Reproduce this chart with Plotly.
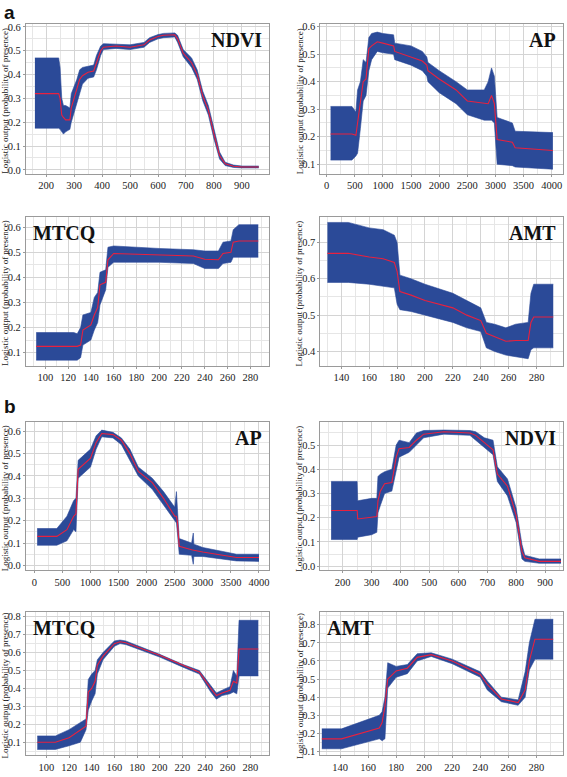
import plotly.graph_objects as go

# ---------------- data ----------------
# (a) NDVI
a_ndvi_x  = [160, 245, 250, 256, 262, 270, 285, 290, 300, 310, 320, 330, 350, 370, 380, 395, 405, 450, 500, 550, 570, 600, 620, 660, 670, 690, 720, 740, 760, 780, 800, 820, 840, 870, 900, 960]
a_ndvi_m  = [0.32, 0.32, 0.30, 0.23, 0.22, 0.21, 0.21, 0.26, 0.30, 0.34, 0.38, 0.395, 0.41, 0.415, 0.45, 0.50, 0.515, 0.52, 0.515, 0.525, 0.545, 0.56, 0.565, 0.567, 0.55, 0.49, 0.45, 0.40, 0.31, 0.25, 0.15, 0.06, 0.025, 0.015, 0.012, 0.012]
a_ndvi_lo = [0.175, 0.175, 0.17, 0.16, 0.15, 0.16, 0.17, 0.20, 0.24, 0.29, 0.33, 0.36, 0.385, 0.39, 0.42, 0.48, 0.505, 0.51, 0.505, 0.515, 0.535, 0.55, 0.555, 0.558, 0.535, 0.475, 0.43, 0.38, 0.29, 0.23, 0.13, 0.045, 0.018, 0.01, 0.008, 0.008]
a_ndvi_hi = [0.47, 0.47, 0.43, 0.30, 0.27, 0.27, 0.26, 0.32, 0.35, 0.38, 0.42, 0.43, 0.435, 0.44, 0.48, 0.52, 0.53, 0.528, 0.525, 0.535, 0.555, 0.568, 0.573, 0.575, 0.565, 0.505, 0.47, 0.42, 0.33, 0.27, 0.17, 0.075, 0.032, 0.02, 0.016, 0.016]

# (a) AP
a_ap_x  = [70, 450, 520, 550, 600, 650, 700, 750, 800, 900, 1000, 1190, 1210, 1500, 1700, 1780, 1800, 2000, 2300, 2500, 2800, 2870, 2930, 2980, 3030, 3300, 3350, 4020]
a_ap_m  = [0.21, 0.21, 0.205, 0.25, 0.32, 0.40, 0.41, 0.52, 0.53, 0.545, 0.54, 0.53, 0.51, 0.49, 0.475, 0.46, 0.44, 0.41, 0.37, 0.33, 0.32, 0.32, 0.35, 0.32, 0.19, 0.18, 0.16, 0.15]
a_ap_lo = [0.115, 0.115, 0.13, 0.14, 0.23, 0.33, 0.35, 0.44, 0.48, 0.51, 0.505, 0.50, 0.48, 0.46, 0.44, 0.42, 0.40, 0.36, 0.32, 0.28, 0.26, 0.26, 0.26, 0.25, 0.10, 0.095, 0.09, 0.082]
a_ap_hi = [0.31, 0.31, 0.29, 0.37, 0.40, 0.48, 0.47, 0.56, 0.575, 0.58, 0.575, 0.57, 0.54, 0.53, 0.51, 0.49, 0.47, 0.44, 0.40, 0.37, 0.37, 0.40, 0.45, 0.42, 0.27, 0.25, 0.22, 0.215]

# (a) MTCQ
a_mt_x  = [92, 125, 128, 131, 133, 140, 143, 146, 148, 153, 155, 160, 200, 230, 240, 252, 256, 263, 265, 270, 287]
a_mt_m  = [0.125, 0.125, 0.125, 0.13, 0.19, 0.21, 0.25, 0.28, 0.37, 0.38, 0.47, 0.495, 0.49, 0.485, 0.472, 0.47, 0.495, 0.50, 0.54, 0.545, 0.545]
a_mt_lo = [0.07, 0.07, 0.07, 0.08, 0.13, 0.15, 0.19, 0.22, 0.29, 0.35, 0.44, 0.46, 0.46, 0.455, 0.435, 0.435, 0.455, 0.46, 0.48, 0.48, 0.48]
a_mt_hi = [0.18, 0.18, 0.175, 0.20, 0.25, 0.26, 0.32, 0.34, 0.42, 0.43, 0.52, 0.525, 0.515, 0.51, 0.505, 0.505, 0.54, 0.545, 0.59, 0.61, 0.61]

# (a) AMT
a_amt_x  = [130, 145, 160, 170, 178, 180, 182, 190, 200, 220, 230, 240, 244, 250, 258, 265, 274, 276, 278, 292]
a_amt_m  = [0.67, 0.67, 0.66, 0.655, 0.645, 0.62, 0.565, 0.555, 0.54, 0.52, 0.50, 0.485, 0.45, 0.44, 0.428, 0.43, 0.43, 0.48, 0.495, 0.495]
a_amt_lo = [0.59, 0.59, 0.585, 0.58, 0.575, 0.53, 0.515, 0.51, 0.50, 0.48, 0.465, 0.455, 0.41, 0.40, 0.39, 0.385, 0.38, 0.405, 0.41, 0.41]
a_amt_hi = [0.755, 0.755, 0.74, 0.735, 0.72, 0.70, 0.61, 0.60, 0.585, 0.56, 0.54, 0.52, 0.48, 0.475, 0.465, 0.475, 0.48, 0.56, 0.585, 0.585]

# (b) AP
b_ap_x  = [50, 400, 580, 700, 740, 780, 1000, 1100, 1200, 1400, 1550, 1700, 1850, 2100, 2300, 2500, 2530, 2545, 2560, 2580, 2800, 2830, 2840, 3000, 3600, 4000]
b_ap_m  = [0.13, 0.13, 0.16, 0.22, 0.23, 0.43, 0.48, 0.55, 0.59, 0.585, 0.56, 0.50, 0.42, 0.37, 0.30, 0.22, 0.22, 0.20, 0.15, 0.085, 0.07, 0.07, 0.068, 0.06, 0.035, 0.035]
b_ap_lo = [0.09, 0.09, 0.11, 0.16, 0.15, 0.39, 0.44, 0.52, 0.575, 0.57, 0.54, 0.47, 0.40, 0.34, 0.27, 0.20, 0.19, 0.15, 0.10, 0.05, 0.045, 0.005, 0.04, 0.04, 0.02, 0.018]
b_ap_hi = [0.165, 0.165, 0.22, 0.29, 0.30, 0.47, 0.52, 0.58, 0.605, 0.595, 0.57, 0.52, 0.44, 0.39, 0.33, 0.26, 0.33, 0.22, 0.20, 0.12, 0.10, 0.145, 0.095, 0.08, 0.05, 0.05]

# (b) NDVI
b_ndvi_x  = [160, 250, 252, 300, 318, 322, 330, 345, 370, 385, 395, 430, 455, 480, 550, 640, 660, 690, 720, 735, 770, 800, 820, 830, 880, 955]
b_ndvi_m  = [0.23, 0.23, 0.195, 0.20, 0.205, 0.27, 0.31, 0.34, 0.345, 0.45, 0.485, 0.49, 0.52, 0.545, 0.555, 0.55, 0.54, 0.51, 0.48, 0.38, 0.33, 0.21, 0.06, 0.035, 0.02, 0.02]
b_ndvi_lo = [0.11, 0.11, 0.12, 0.13, 0.14, 0.22, 0.25, 0.30, 0.31, 0.40, 0.45, 0.47, 0.50, 0.53, 0.545, 0.54, 0.52, 0.49, 0.46, 0.35, 0.29, 0.18, 0.03, 0.02, 0.012, 0.012]
b_ndvi_hi = [0.35, 0.35, 0.27, 0.28, 0.28, 0.37, 0.38, 0.39, 0.40, 0.50, 0.52, 0.51, 0.55, 0.56, 0.562, 0.56, 0.555, 0.53, 0.52, 0.41, 0.36, 0.24, 0.09, 0.045, 0.03, 0.03]

# (b) MTCQ
b_mt_x  = [92, 108, 120, 130, 135, 137, 140, 143, 145, 150, 160, 165, 170, 200, 220, 235, 245, 250, 255, 262, 265, 268, 270, 287]
b_mt_m  = [0.10, 0.10, 0.125, 0.17, 0.19, 0.38, 0.40, 0.44, 0.53, 0.58, 0.65, 0.66, 0.655, 0.585, 0.53, 0.49, 0.40, 0.36, 0.375, 0.39, 0.44, 0.43, 0.62, 0.62]
b_mt_lo = [0.06, 0.06, 0.08, 0.10, 0.17, 0.28, 0.33, 0.37, 0.48, 0.56, 0.635, 0.65, 0.645, 0.575, 0.52, 0.48, 0.38, 0.34, 0.36, 0.37, 0.38, 0.37, 0.47, 0.47]
b_mt_hi = [0.135, 0.135, 0.17, 0.21, 0.23, 0.45, 0.48, 0.50, 0.56, 0.60, 0.665, 0.67, 0.665, 0.59, 0.535, 0.50, 0.42, 0.375, 0.39, 0.41, 0.50, 0.47, 0.78, 0.78]

# (b) AMT
b_amt_x  = [127, 141, 168, 170, 172, 174, 180, 188, 195, 205, 220, 240, 245, 255, 267, 272, 275, 279, 292]
b_amt_m  = [0.17, 0.17, 0.23, 0.26, 0.35, 0.50, 0.545, 0.56, 0.62, 0.635, 0.60, 0.525, 0.47, 0.39, 0.37, 0.44, 0.60, 0.72, 0.72]
b_amt_lo = [0.115, 0.115, 0.17, 0.16, 0.17, 0.45, 0.51, 0.53, 0.60, 0.625, 0.585, 0.51, 0.44, 0.375, 0.355, 0.40, 0.55, 0.61, 0.61]
b_amt_hi = [0.225, 0.225, 0.30, 0.32, 0.40, 0.59, 0.57, 0.58, 0.64, 0.645, 0.61, 0.54, 0.49, 0.40, 0.385, 0.54, 0.70, 0.83, 0.83]

panel_titles = ["NDVI", "AP", "MTCQ", "AMT", "AP", "NDVI", "MTCQ", "AMT"]
y_title = "Logistic output (probability of presence)"

panels = [
    (a_ndvi_x, a_ndvi_m, a_ndvi_lo, a_ndvi_hi),
    (a_ap_x, a_ap_m, a_ap_lo, a_ap_hi),
    (a_mt_x, a_mt_m, a_mt_lo, a_mt_hi),
    (a_amt_x, a_amt_m, a_amt_lo, a_amt_hi),
    (b_ap_x, b_ap_m, b_ap_lo, b_ap_hi),
    (b_ndvi_x, b_ndvi_m, b_ndvi_lo, b_ndvi_hi),
    (b_mt_x, b_mt_m, b_mt_lo, b_mt_hi),
    (b_amt_x, b_amt_m, b_amt_lo, b_amt_hi),
]

# ---------------- layout geometry ----------------
W, H = 567, 777
xdoms = [(26, 269), (321, 564)]
ydoms = [(21, 172), (215, 365), (422, 571), (613, 757)]
xranges = [[128, 995], [-110, 4200], [83, 296], [125, 299], [-150, 4170], [123, 962], [82, 296], [126, 299]]
yranges = [[-0.017, 0.613], [0.065, 0.61], [0.048, 0.642], [0.361, 0.771], [-0.022, 0.64], [-0.017, 0.594], [0.028, 0.826], [0.08, 0.87]]
xdt = [100, 500, 20, 20, 500, 100, 20, 20]
ydt = [0.1, 0.1, 0.1, 0.1, 0.1, 0.1, 0.1, 0.1]
title_pos = ["r", "r", "l", "r", "r", "r", "l", "l"]

BLUE = "#2B4A98"
RED = "#E8213F"
GRID = "#D4D4D4"
MINOR = "#E6E6E6"
FRAME = "#9A9A9A"
FONT = "Liberation Serif"

fig = go.Figure()
annotations = []
for i, (xs, m, lo, hi) in enumerate(panels):
    r, c = divmod(i, 2)
    k = "" if i == 0 else str(i + 1)
    xa, ya = "x" + k, "y" + k
    fig.add_trace(go.Scatter(x=xs, y=lo, mode="lines", line=dict(width=0.6, color=BLUE),
                             xaxis=xa, yaxis=ya, showlegend=False, hoverinfo="skip"))
    fig.add_trace(go.Scatter(x=xs, y=hi, mode="lines", line=dict(width=0.6, color=BLUE),
                             fill="tonexty", fillcolor=BLUE,
                             xaxis=xa, yaxis=ya, showlegend=False, hoverinfo="skip"))
    fig.add_trace(go.Scatter(x=xs, y=m, mode="lines", line=dict(width=1.1, color=RED),
                             xaxis=xa, yaxis=ya, showlegend=False))
    x0, x1 = xdoms[c]
    y0, y1 = ydoms[r]
    common = dict(showline=True, linecolor=FRAME, linewidth=1, mirror=True,
                  showgrid=True, gridcolor=GRID, gridwidth=1, zeroline=False,
                  ticks="outside", ticklen=2, tickcolor=FRAME,
                  tickfont=dict(family=FONT, size=10.5, color="#222"))
    fig.layout["xaxis" + k] = dict(common, domain=[x0 / W, x1 / W], range=xranges[i],
                                   dtick=xdt[i], tick0=0, anchor=ya,
                                   minor=dict(dtick=xdt[i] / 2, showgrid=True, gridcolor=MINOR, tick0=0))
    fig.layout["yaxis" + k] = dict(common, domain=[1 - y1 / H, 1 - y0 / H], range=yranges[i],
                                   dtick=ydt[i], tick0=0, tickformat=".1f", anchor=xa,
                                   minor=dict(dtick=ydt[i] / 2, showgrid=True, gridcolor=MINOR, tick0=0))
    # y-axis title
    annotations.append(dict(text=y_title, textangle=-90, xref="paper", yref="paper",
                            x=(x0 - 21) / W, y=1 - ((y0 + y1) / 2 + 2) / H, xanchor="center", yanchor="middle",
                            showarrow=False, font=dict(family=FONT, size=9, color="#222")))
    # panel title
    if title_pos[i] == "r":
        annotations.append(dict(text="<b>%s</b>" % panel_titles[i], xref="paper", yref="paper",
                                x=(x1 - 5) / W, y=1 - (y0 + 3) / H, xanchor="right", yanchor="top",
                                showarrow=False, font=dict(family=FONT, size=20, color="#111")))
    else:
        annotations.append(dict(text="<b>%s</b>" % panel_titles[i], xref="paper", yref="paper",
                                x=(x0 + 5) / W, y=1 - (y0 + 3) / H, xanchor="left", yanchor="top",
                                showarrow=False, font=dict(family=FONT, size=20, color="#111")))

annotations.append(dict(text="<b>a</b>", xref="paper", yref="paper", x=2 / W, y=1 + 3 / H,
                        xanchor="left", yanchor="top", showarrow=False,
                        font=dict(family="Liberation Sans", size=19, color="#111")))
annotations.append(dict(text="<b>b</b>", xref="paper", yref="paper", x=2 / W, y=1 - 394 / H,
                        xanchor="left", yanchor="top", showarrow=False,
                        font=dict(family="Liberation Sans", size=19, color="#111")))

fig.update_layout(width=W, height=H, margin=dict(l=0, r=0, t=0, b=0),
                  paper_bgcolor="white", plot_bgcolor="white", annotations=annotations)
fig.write_html("out.html", config={"displayModeBar": False},
               post_script="document.body.style.margin='0px';")
